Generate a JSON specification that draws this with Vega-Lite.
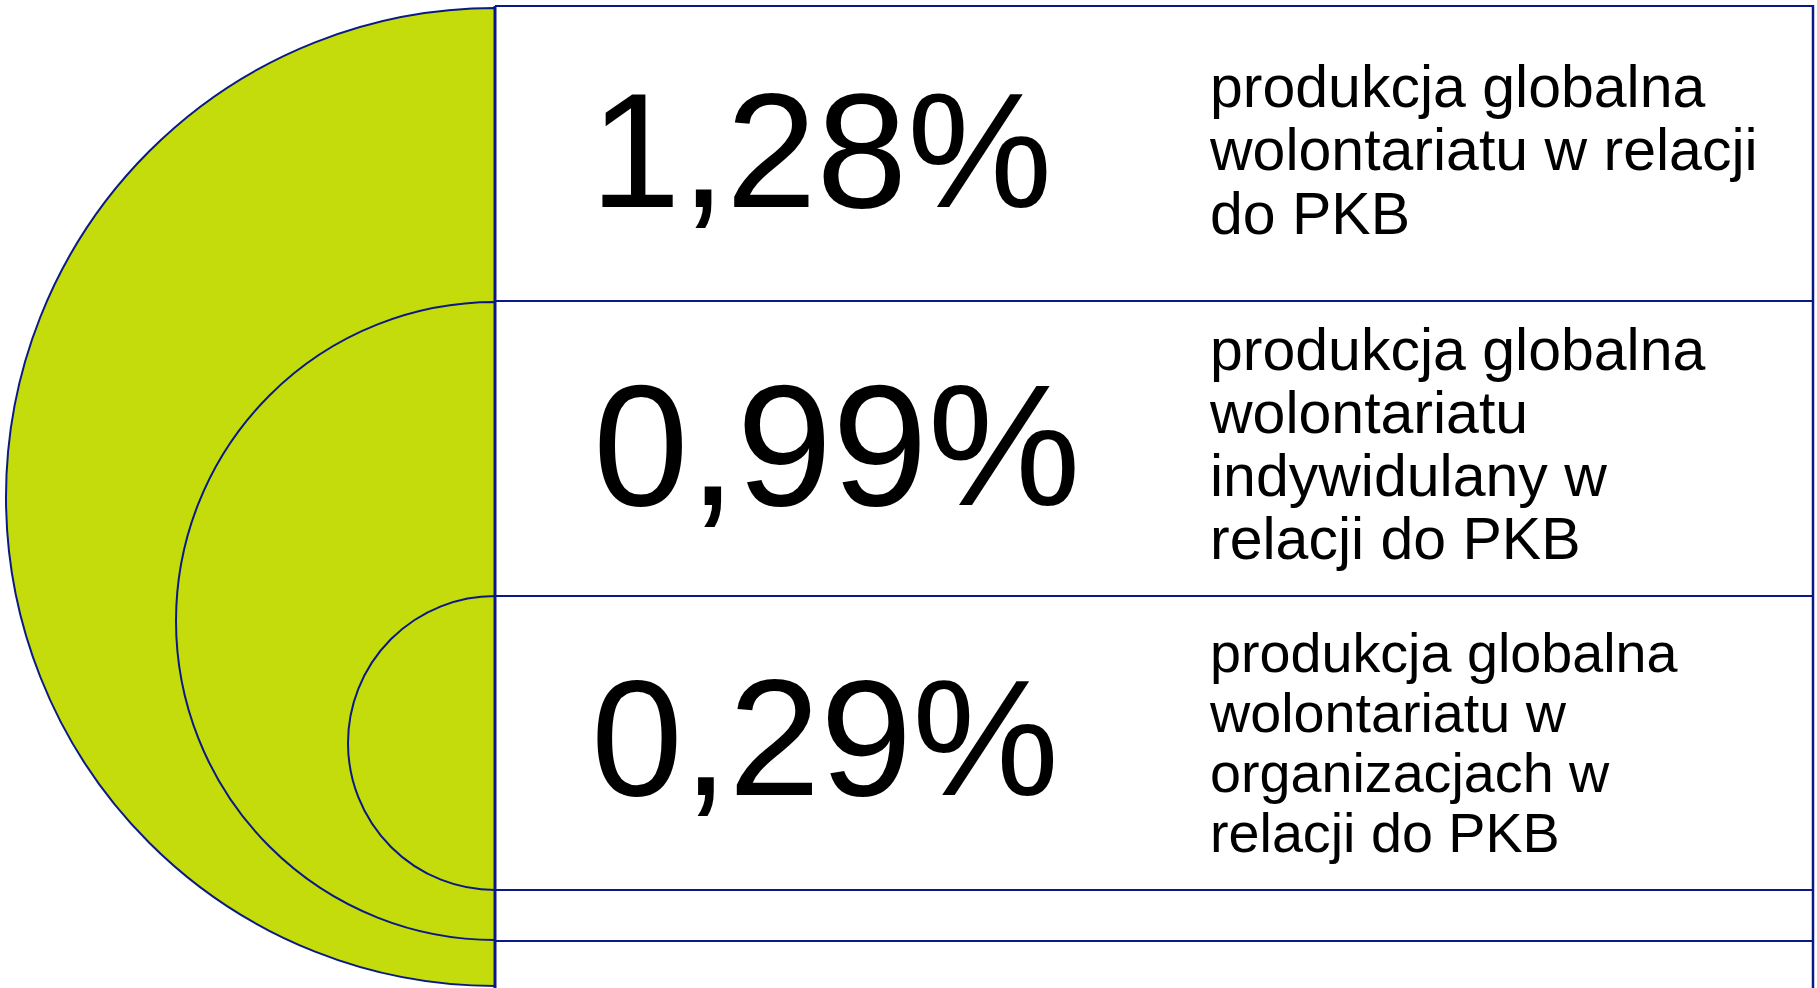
{
  "$schema": "https://vega.github.io/schema/vega-lite/v6.json",
  "width": 1817,
  "height": 988,
  "autosize": "none",
  "padding": 0,
  "background": "white",
  "config": {"view": {"stroke": null}},
  "datasets": {
    "circles": [
      {"ring": "zewnętrzny", "cx": 495, "cy": 497, "r": 489},
      {"ring": "środkowy", "cx": 495, "cy": 621, "r": 319},
      {"ring": "wewnętrzny", "cx": 495, "cy": 743, "r": 147}
    ],
    "hlines": [
      {"x": 495, "x2": 1813, "y": 6},
      {"x": 495, "x2": 1813, "y": 301},
      {"x": 495, "x2": 1813, "y": 596},
      {"x": 495, "x2": 1813, "y": 890},
      {"x": 495, "x2": 1813, "y": 941}
    ],
    "vlines": [
      {"x": 495, "y": 6, "y2": 988, "w": "left"},
      {"x": 1813, "y": 5, "y2": 988, "w": "right"}
    ],
    "items": [
      {"row": 1, "value": "1,28%", "vx": 590, "vy": 207, "label": "produkcja globalna\nwolontariatu w relacji\ndo PKB", "lx": 1210, "ly": 106.5},
      {"row": 2, "value": "0,99%", "vx": 593, "vy": 504.5, "label": "produkcja globalna\nwolontariatu\nindywidulany w\nrelacji do PKB", "lx": 1210, "ly": 370},
      {"row": 3, "value": "0,29%", "vx": 591, "vy": 795, "label": "produkcja globalna\nwolontariatu w\norganizacjach w\nrelacji do PKB", "lx": 1210, "ly": 671.5}
    ]
  },
  "layer": [
    {
      "data": {"name": "circles"},
      "mark": {"type": "arc", "theta": 3.14159265, "theta2": 6.28318531, "fill": "#C4DC0C", "stroke": "#0A1A85", "strokeWidth": 2},
      "encoding": {
        "x": {"field": "cx", "type": "quantitative", "scale": {"domain": [0, 1817], "nice": false, "zero": false}, "axis": null},
        "y": {"field": "cy", "type": "quantitative", "scale": {"domain": [0, 988], "nice": false, "zero": false, "reverse": true}, "axis": null},
        "radius": {"field": "r", "type": "quantitative", "stack": null, "scale": {"type": "linear", "domain": [0, 1000], "range": [0, 1000], "zero": true}, "legend": null}
      }
    },
    {
      "data": {"name": "hlines"},
      "mark": {"type": "rule", "stroke": "#0A1A85", "strokeWidth": 2},
      "encoding": {
        "x": {"field": "x", "type": "quantitative", "scale": {"domain": [0, 1817], "nice": false, "zero": false}, "axis": null},
        "x2": {"field": "x2"},
        "y": {"field": "y", "type": "quantitative", "scale": {"domain": [0, 988], "nice": false, "zero": false, "reverse": true}, "axis": null}
      }
    },
    {
      "data": {"name": "vlines"},
      "mark": {"type": "rule", "stroke": "#0A1A85"},
      "encoding": {
        "x": {"field": "x", "type": "quantitative", "scale": {"domain": [0, 1817], "nice": false, "zero": false}, "axis": null},
        "y": {"field": "y", "type": "quantitative", "scale": {"domain": [0, 988], "nice": false, "zero": false, "reverse": true}, "axis": null},
        "y2": {"field": "y2"},
        "strokeWidth": {"condition": {"test": "datum.w === 'left'", "value": 3}, "value": 2.5}
      }
    },
    {
      "data": {"name": "items"},
      "mark": {"type": "text", "font": "Liberation Sans", "align": "left", "baseline": "alphabetic", "color": "#000000"},
      "encoding": {
        "x": {"field": "vx", "type": "quantitative", "scale": {"domain": [0, 1817], "nice": false, "zero": false}, "axis": null},
        "y": {"field": "vy", "type": "quantitative", "scale": {"domain": [0, 988], "nice": false, "zero": false, "reverse": true}, "axis": null},
        "text": {"field": "value", "type": "nominal"},
        "size": {"condition": [{"test": "datum.row === 2", "value": 172}, {"test": "datum.row === 3", "value": 165}], "value": 163}
      }
    },
    {
      "data": {"name": "items"},
      "transform": [{"filter": "datum.row === 1"}],
      "mark": {"type": "text", "font": "Liberation Sans", "align": "left", "baseline": "alphabetic", "color": "#000000", "fontSize": 59, "lineHeight": 63.5, "lineBreak": "\n"},
      "encoding": {
        "x": {"field": "lx", "type": "quantitative", "scale": {"domain": [0, 1817], "nice": false, "zero": false}, "axis": null},
        "y": {"field": "ly", "type": "quantitative", "scale": {"domain": [0, 988], "nice": false, "zero": false, "reverse": true}, "axis": null},
        "text": {"field": "label", "type": "nominal"}
      }
    },
    {
      "data": {"name": "items"},
      "transform": [{"filter": "datum.row === 2"}],
      "mark": {"type": "text", "font": "Liberation Sans", "align": "left", "baseline": "alphabetic", "color": "#000000", "fontSize": 59, "lineHeight": 63, "lineBreak": "\n"},
      "encoding": {
        "x": {"field": "lx", "type": "quantitative", "scale": {"domain": [0, 1817], "nice": false, "zero": false}, "axis": null},
        "y": {"field": "ly", "type": "quantitative", "scale": {"domain": [0, 988], "nice": false, "zero": false, "reverse": true}, "axis": null},
        "text": {"field": "label", "type": "nominal"}
      }
    },
    {
      "data": {"name": "items"},
      "transform": [{"filter": "datum.row === 3"}],
      "mark": {"type": "text", "font": "Liberation Sans", "align": "left", "baseline": "alphabetic", "color": "#000000", "fontSize": 55.7, "lineHeight": 60, "lineBreak": "\n"},
      "encoding": {
        "x": {"field": "lx", "type": "quantitative", "scale": {"domain": [0, 1817], "nice": false, "zero": false}, "axis": null},
        "y": {"field": "ly", "type": "quantitative", "scale": {"domain": [0, 988], "nice": false, "zero": false, "reverse": true}, "axis": null},
        "text": {"field": "label", "type": "nominal"}
      }
    }
  ]
}
